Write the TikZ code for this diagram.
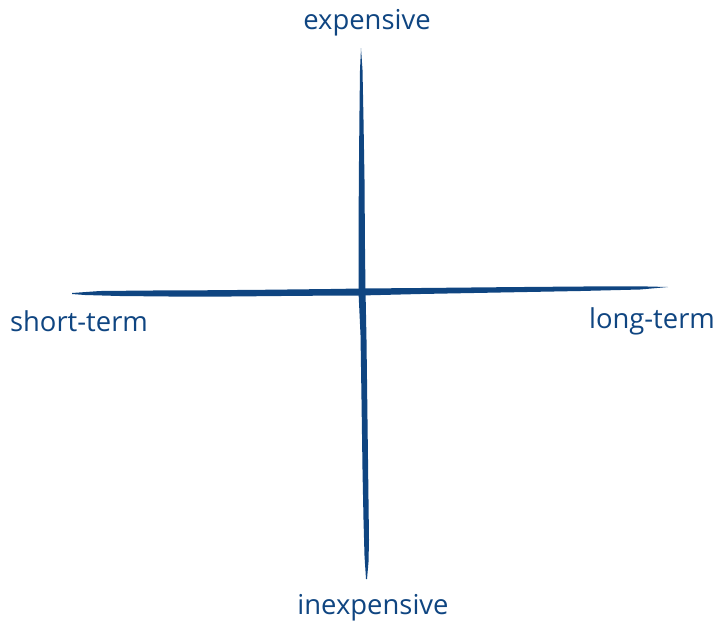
\documentclass[tikz,border=0pt]{standalone}
\usepackage{fontspec}
\setmainfont{Open Sans}
\definecolor{ink}{HTML}{0F4581}
\begin{document}
\begin{tikzpicture}[x=0.02cm,y=-0.02cm,
  lab/.style={text=ink,inner sep=0pt,font=\fontsize{15.6}{17}\selectfont},
  brush/.style={fill=ink,draw=none}]
\useasboundingbox (0,0) rectangle (715,623);
% vertical stroke
\fill[brush] (361,48) -- (362.5,70) -- (363.5,120) -- (364.5,180) -- (365,250) -- (365.5,290)
  -- (366.5,340) -- (367.5,420) -- (368.5,500) -- (369,540) -- (368.5,562) -- (367,579)
  -- (366,579) -- (364.5,556) -- (363.5,520) -- (362.5,470) -- (361.5,400) -- (360.5,335)
  -- (358.5,292) -- (358.5,230) -- (359,160) -- (359.5,110) -- (360,70) -- cycle;
% horizontal stroke
\fill[brush] (72,293) -- (100,291) -- (150,290.5) -- (200,290.3) -- (260,289.8) -- (330,289)
  -- (360,288.5) -- (420,288) -- (500,287.2) -- (580,286.5) -- (640,286.3) -- (668,287)
  -- (640,289.5) -- (580,291) -- (500,292.5) -- (420,294) -- (360,295.5) -- (300,295.8)
  -- (230,296.5) -- (170,296.5) -- (120,296) -- (85,295) -- (72,294) -- cycle;
\node[lab] (top) at (367,23) {expensive};
\node[lab] (bot) at (373,608) {inexpensive};
\node[lab] (left) at (79,321) {short-term};
\node[lab] (right) at (652,321) {long-term};
\end{tikzpicture}
\end{document}
